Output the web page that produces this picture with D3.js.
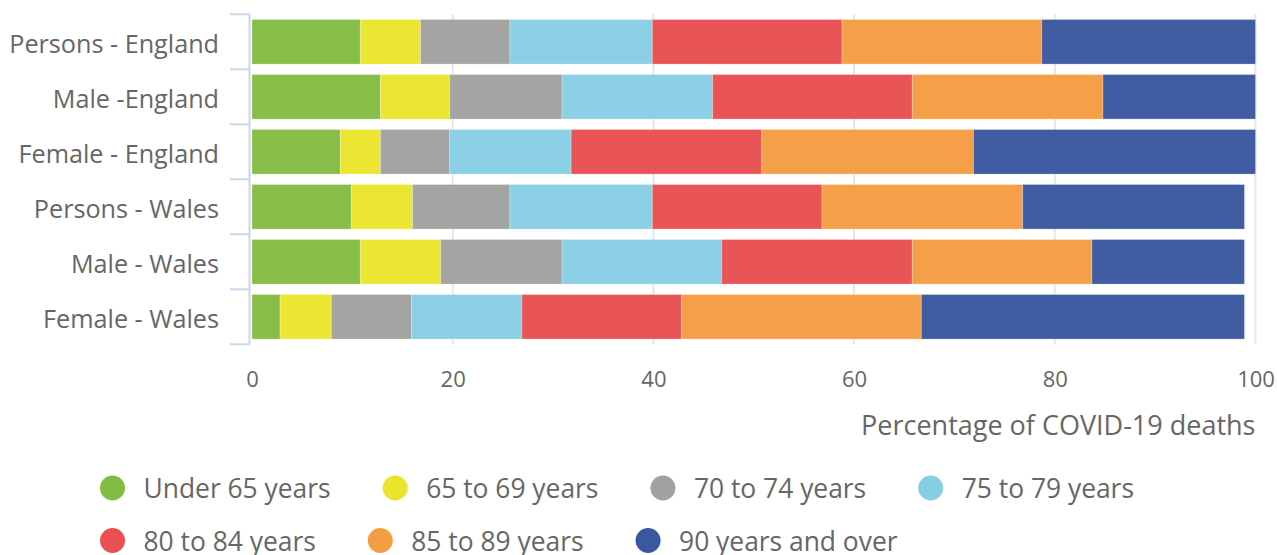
<!DOCTYPE html>
<html>
<head>
<meta charset="utf-8">
<script src="https://cdn.jsdelivr.net/npm/d3@7"></script>
<style>
  html, body { margin: 0; padding: 0; background: #ffffff; }
  svg { display: block; font-family: "Open Sans", "Noto Sans", sans-serif; }
</style>
</head>
<body>
<svg id="chart" width="1277" height="555"></svg>
<script>
// Rows of the chart
const categories = ["Persons - England", "Male -England", "Female - England",
                    "Persons - Wales", "Male - Wales", "Female - Wales"];

// Age groups (stack order, left to right) and their colours
const ageGroups = ["Under 65 years", "65 to 69 years", "70 to 74 years", "75 to 79 years",
                   "80 to 84 years", "85 to 89 years", "90 years and over"];
const ageColors = ["#82bc42", "#eae52b", "#a1a19f", "#87cee3", "#e85052", "#f59d42", "#3a579f"];

// Percentage of COVID-19 deaths in each age group, one value per row
const under65   = [10.8, 12.8,  8.8,  9.9, 10.8,  2.8];
const age65to69 = [ 6.0,  6.9,  4.0,  6.1,  8.0,  5.1];
const age70to74 = [ 8.9, 11.2,  6.9,  9.7, 12.1,  8.0];
const age75to79 = [14.2, 15.0, 12.1, 14.2, 15.9, 11.0];
const age80to84 = [18.9, 19.9, 19.0, 16.9, 19.0, 15.9];
const age85to89 = [19.9, 19.0, 21.1, 20.0, 17.9, 23.9];
const age90plus = [21.3, 15.2, 28.1, 22.1, 15.2, 32.2];

const xTicks = [0, 20, 40, 60, 80, 100];
const xTitle = "Percentage of COVID-19 deaths";

const seriesValues = [under65, age65to69, age70to74, age75to79, age80to84, age85to89, age90plus];
const rows = categories.map((c, i) => {
  const r = { category: c };
  ageGroups.forEach((g, k) => { r[g] = seriesValues[k][i]; });
  return r;
});

const svg = d3.select("#chart");
const textColor = "#666666";

const x = d3.scaleLinear().domain([0, 100]).range([252, 1255.5]);
const y = d3.scaleBand().domain(categories).range([14.3, 344.3])
  .paddingInner(0.19).paddingOuter(0.095);

// Vertical grid lines
svg.append("g").selectAll("line")
  .data(xTicks.filter(t => t > 0))
  .join("line")
  .attr("x1", d => x(d)).attr("x2", d => x(d))
  .attr("y1", 14.3).attr("y2", 344.3)
  .attr("stroke", "#e6e6e6").attr("stroke-width", 2);

// Stacked bars
const stacked = d3.stack().keys(ageGroups)(rows);
svg.append("g").selectAll("g")
  .data(stacked)
  .join("g")
  .attr("fill", (d, i) => ageColors[i])
  .selectAll("rect")
  .data(d => d)
  .join("rect")
  .attr("x", d => x(d[0]))
  .attr("width", d => x(d[1]) - x(d[0]))
  .attr("y", d => y(d.data.category))
  .attr("height", y.bandwidth())
  .attr("fill-opacity", 0.97)
  .attr("stroke", "#ffffff").attr("stroke-opacity", 0.25).attr("stroke-width", 1);

// Category axis: line with ticks at band edges
const yAxisG = svg.append("g");
const axisColor = "#ccd6eb";
yAxisG.append("line")
  .attr("x1", 249.5).attr("x2", 249.5).attr("y1", 14.3).attr("y2", 344.3)
  .attr("stroke", axisColor).attr("stroke-width", 2);
const edges = categories.map(c => y(c) - y.step() * y.paddingInner() / 2);
edges.push(y.range()[1]);
edges[0] = y.range()[0];
yAxisG.selectAll("line.tick")
  .data(edges)
  .join("line")
  .attr("class", "tick")
  .attr("x1", 230).attr("x2", 250)
  .attr("y1", d => d).attr("y2", d => d)
  .attr("stroke", axisColor).attr("stroke-width", 2);

yAxisG.selectAll("text")
  .data(categories)
  .join("text")
  .attr("x", 219)
  .attr("y", d => y(d) + y.bandwidth() / 2 + 11)
  .attr("text-anchor", "end")
  .attr("font-size", 25.2)
  .attr("fill", textColor)
  .text(d => d);

// Value axis labels
const xAxisG = svg.append("g").attr("transform", "translate(0,387)")
  .call(d3.axisBottom(x).tickValues(xTicks).tickSize(0).tickPadding(0).tickFormat(d3.format("d")));
xAxisG.select(".domain").remove();
xAxisG.selectAll("text")
  .attr("dy", 0)
  .attr("font-size", 22)
  .attr("font-family", "\"Open Sans\", sans-serif")
  .attr("fill", textColor);

svg.append("text")
  .attr("x", 1255.5).attr("y", 435)
  .attr("text-anchor", "end")
  .attr("font-size", 27)
  .attr("fill", textColor)
  .text(xTitle);

// Legend, flowing left to right over two rows
const legend = svg.append("g");
const legendRows = [ageGroups.slice(0, 4), ageGroups.slice(4)];
const legendY = [488, 540.5];
legendRows.forEach((items, r) => {
  let cx = 112.5;
  items.forEach(name => {
    const k = ageGroups.indexOf(name);
    legend.append("circle")
      .attr("cx", cx).attr("cy", legendY[r]).attr("r", 12.5)
      .attr("fill", ageColors[k]);
    const t = legend.append("text")
      .attr("x", cx + 31).attr("y", legendY[r] + 10)
      .attr("font-size", 26.4)
      .attr("fill", textColor)
      .text(name);
    const w = t.node().getComputedTextLength();
    cx = cx + 31 + w + 64.5;
  });
});
</script>
</body>
</html>
